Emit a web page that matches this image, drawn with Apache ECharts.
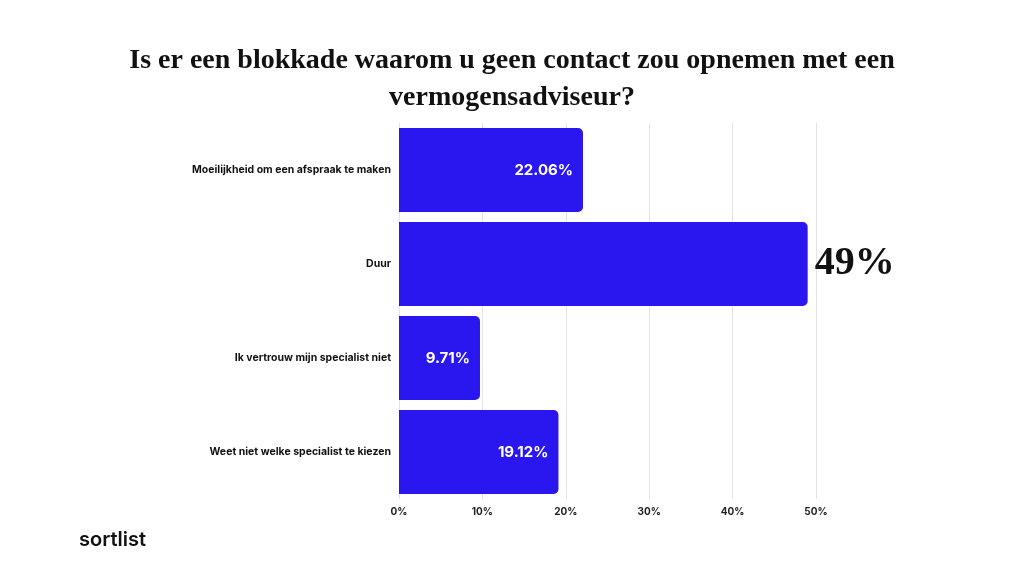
<!DOCTYPE html>
<html>
<head>
<meta charset="utf-8">
<script src="https://cdn.jsdelivr.net/npm/echarts@6/dist/echarts.min.js"></script>
<style>
  html, body { margin: 0; padding: 0; background: #ffffff; }
  #chart { width: 1024px; height: 576px; }
</style>
</head>
<body>
<div id="chart"></div>
<script>
// categories (top to bottom)
const categories = [
  "Moeilijkheid om een afspraak te maken",
  "Duur",
  "Ik vertrouw mijn specialist niet",
  "Weet niet welke specialist te kiezen"
];
// percentages
const values = [22.06, 49, 9.71, 19.12];
// labels shown on the bars
const valueLabels = ["22.06%", "49%", "9.71%", "19.12%"];

const barColor = "#2a16ee";

const chart = echarts.init(document.getElementById("chart"));

const seriesData = values.map((v, i) => {
  const item = { value: v };
  if (i === 1) {
    // big serif label outside the longest bar
    item.label = {
      position: "right",
      distance: 7,
      color: "#111111",
      fontFamily: "Liberation Serif",
      fontWeight: "bold",
      fontSize: 40
    };
  }
  return item;
});

chart.setOption({
  animation: false,
  title: {
    text: "Is er een blokkade waarom u geen contact zou opnemen met een\nvermogensadviseur?",
    left: "center",
    top: 37,
    textStyle: {
      fontFamily: "Liberation Serif",
      fontWeight: "bold",
      fontSize: 28,
      lineHeight: 37,
      color: "#111111"
    }
  },
  graphic: [
    {
      type: "text",
      left: 79,
      top: 530,
      style: {
        text: "sortlist",
        fontFamily: "Inter",
        fontWeight: 600,
        fontSize: 20,
        fill: "#111111"
      }
    }
  ],
  grid: {
    left: 399,
    right: 208,
    top: 123,
    bottom: 77,
    containLabel: false
  },
  xAxis: {
    type: "value",
    min: 0,
    max: 50,
    interval: 10,
    axisLine: { show: false },
    axisTick: { show: false },
    splitLine: {
      show: true,
      lineStyle: { color: "#e3e3e6", width: 1 }
    },
    axisLabel: {
      formatter: "{value}%",
      color: "#222222",
      fontFamily: "Inter",
      fontWeight: "bold",
      fontSize: 10,
      margin: 8
    }
  },
  yAxis: {
    type: "category",
    inverse: true,
    data: categories,
    axisLine: { show: false },
    axisTick: { show: false },
    axisLabel: {
      color: "#111111",
      fontFamily: "Inter",
      fontWeight: "bold",
      fontSize: 10.5,
      margin: 8
    }
  },
  series: [
    {
      type: "bar",
      data: seriesData,
      barCategoryGap: "10.6%",
      itemStyle: {
        color: barColor,
        borderRadius: [0, 5, 5, 0]
      },
      label: {
        show: true,
        position: "insideRight",
        distance: 10,
        color: "#ffffff",
        fontFamily: "Inter",
        fontWeight: "bold",
        fontSize: 15,
        formatter: (p) => valueLabels[p.dataIndex]
      }
    }
  ]
});
</script>
</body>
</html>
